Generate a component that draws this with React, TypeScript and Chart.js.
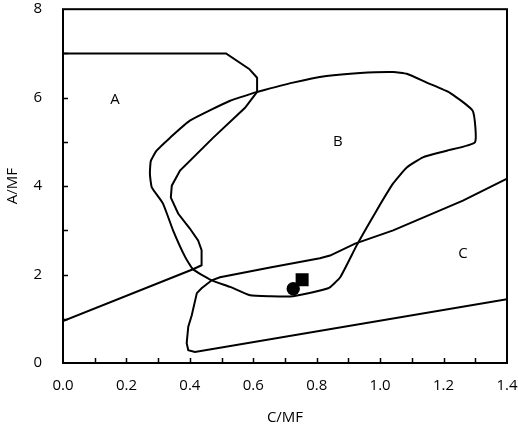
import React, { useEffect, useRef } from "react";
import { Chart, registerables } from "chart.js";

Chart.register(...registerables);

// Region A boundary (top line, curve, lower diagonal line)
const curveA: [number, number][] = [
  [0, 7.0], [0.514, 7.0], [0.587, 6.65], [0.612, 6.45], [0.612, 6.13],
  [0.574, 5.77], [0.473, 5.09], [0.369, 4.35], [0.343, 4.01], [0.34, 3.74],
  [0.363, 3.38], [0.4, 3.04], [0.426, 2.77], [0.437, 2.55], [0.437, 2.21],
  [0.41, 2.12], [0, 0.946],
];

// Region B boundary (closed)
const curveB: [number, number][] = [
  [0.612, 6.13], [0.527, 5.93], [0.4, 5.48], [0.337, 5.09], [0.295, 4.8],
  [0.277, 4.57], [0.274, 4.28], [0.28, 3.97], [0.315, 3.61], [0.347, 3.0],
  [0.385, 2.4], [0.41, 2.12], [0.469, 1.87], [0.527, 1.72], [0.59, 1.53],
  [0.653, 1.51], [0.725, 1.51], [0.836, 1.69], [0.874, 1.94], [0.926, 2.66],
  [0.989, 3.45], [1.041, 4.06], [1.084, 4.42], [1.135, 4.65], [1.21, 4.8],
  [1.299, 4.99], [1.292, 5.7], [1.22, 6.11], [1.147, 6.34], [1.084, 6.54],
  [1.042, 6.58], [0.937, 6.56], [0.831, 6.49], [0.725, 6.34], [0.612, 6.13],
];

// Region C boundary
const curveC: [number, number][] = [
  [1.4, 4.17], [1.261, 3.67], [1.041, 3.0], [0.921, 2.7], [0.842, 2.43],
  [0.81, 2.37], [0.653, 2.16], [0.495, 1.94], [0.469, 1.87], [0.437, 1.69],
  [0.422, 1.58], [0.406, 1.08], [0.395, 0.82], [0.39, 0.45], [0.395, 0.29],
  [0.416, 0.25], [1.4, 1.44],
];

const circlePoint = [{ x: 0.726, y: 1.68 }];
const squarePoint = [{ x: 0.754, y: 1.88 }];

const regionLabels = ["A", "B", "C"];
const regionX = [0.164, 0.867, 1.261];
const regionY = [5.95, 5.0, 2.46];

const xTickLabels = ["0.0", "0.2", "0.4", "0.6", "0.8", "1.0", "1.2", "1.4"];
const yTickLabels = ["0", "2", "4", "6", "8"];

const FONT = "'Open Sans', sans-serif";

const decorPlugin = {
  id: "decor",
  afterDraw(chart: any) {
    const { ctx, chartArea, scales } = chart;
    const xs = scales.x;
    const ys = scales.y;
    ctx.save();
    ctx.strokeStyle = "#000";
    ctx.lineWidth = 2;
    ctx.strokeRect(chartArea.left, chartArea.top, chartArea.right - chartArea.left, chartArea.bottom - chartArea.top);
    ctx.beginPath();
    for (let i = 1; i < 14; i++) {
      const px = Math.round(xs.getPixelForValue(i / 10)) + 0.5;
      ctx.moveTo(px, chartArea.bottom);
      ctx.lineTo(px, chartArea.bottom - 5);
    }
    for (let j = 1; j < 8; j++) {
      const py = Math.round(ys.getPixelForValue(j)) + 0.5;
      ctx.moveTo(chartArea.left, py);
      ctx.lineTo(chartArea.left + 5, py);
    }
    ctx.lineWidth = 1.5;
    ctx.stroke();
    ctx.fillStyle = "#000";
    ctx.font = "15px " + FONT;
    ctx.textAlign = "center";
    ctx.textBaseline = "middle";
    regionLabels.forEach((t, i) => {
      ctx.fillText(t, xs.getPixelForValue(regionX[i]), ys.getPixelForValue(regionY[i]));
    });
    ctx.restore();
  },
};

const toPts = (a: [number, number][]) => a.map(([x, y]) => ({ x, y }));

export default function App() {
  const ref = useRef<HTMLCanvasElement>(null);
  useEffect(() => {
    if (!ref.current) return;
    const lineDs = (data: any, tension: number) => ({
      data,
      showLine: true,
      borderColor: "#000",
      borderWidth: 2,
      pointRadius: 0,
      tension,
      fill: false,
    });
    const chart = new Chart(ref.current, {
      type: "scatter",
      data: {
        datasets: [
          lineDs(toPts(curveA), 0),
          lineDs(toPts(curveB), 0.15),
          lineDs(toPts(curveC), 0),
          {
            data: squarePoint,
            pointStyle: "rect",
            pointRadius: 9.2,
            backgroundColor: "#000",
            borderColor: "#000",
            borderWidth: 0,
            showLine: false,
          },
          {
            data: circlePoint,
            pointStyle: "circle",
            pointRadius: 6.7,
            backgroundColor: "#000",
            borderColor: "#000",
            borderWidth: 0,
            showLine: false,
          },
        ] as any,
      },
      options: {
        animation: false,
        responsive: false,
        layout: { padding: { top: 8, right: 11, left: 0, bottom: 0 } },
        plugins: { legend: { display: false }, tooltip: { enabled: false } },
        scales: {
          x: {
            type: "linear",
            min: 0,
            max: 1.4,
            grid: { display: false, drawTicks: false },
            border: { display: false },
            ticks: {
              stepSize: 0.2,
              padding: 14,
              color: "#000",
              font: { family: FONT, size: 15 },
              autoSkip: false,
              maxRotation: 0,
              callback: (v: any) => xTickLabels[Math.round(Number(v) / 0.2)] ?? "",
            },
            title: {
              display: true,
              text: "C/MF",
              color: "#000",
              font: { family: FONT, size: 15 },
              padding: { top: 1, bottom: 0 },
            },
            afterFit: (s: any) => {
              s.height = 64;
              s.paddingLeft = 0;
              s.paddingRight = 0;
            },
          },
          y: {
            type: "linear",
            min: 0,
            max: 8,
            grid: { display: false, drawTicks: false },
            border: { display: false },
            ticks: {
              stepSize: 2,
              padding: 21,
              color: "#000",
              font: { family: FONT, size: 15 },
              callback: (v: any) => yTickLabels[Math.round(Number(v) / 2)] ?? "",
            },
            title: {
              display: true,
              text: "A/MF",
              color: "#000",
              font: { family: FONT, size: 15 },
              padding: { top: 4, bottom: 0 },
            },
            afterFit: (s: any) => {
              s.width = 63;
              s.paddingTop = 0;
              s.paddingBottom = 0;
            },
          },
        },
      } as any,
      plugins: [decorPlugin],
    });
    return () => chart.destroy();
  }, []);
  return (
    <div style={{ position: "absolute", left: 0, top: 0, width: 518, height: 427, background: "#fff" }}>
      <canvas ref={ref} width={518} height={427} />
    </div>
  );
}
